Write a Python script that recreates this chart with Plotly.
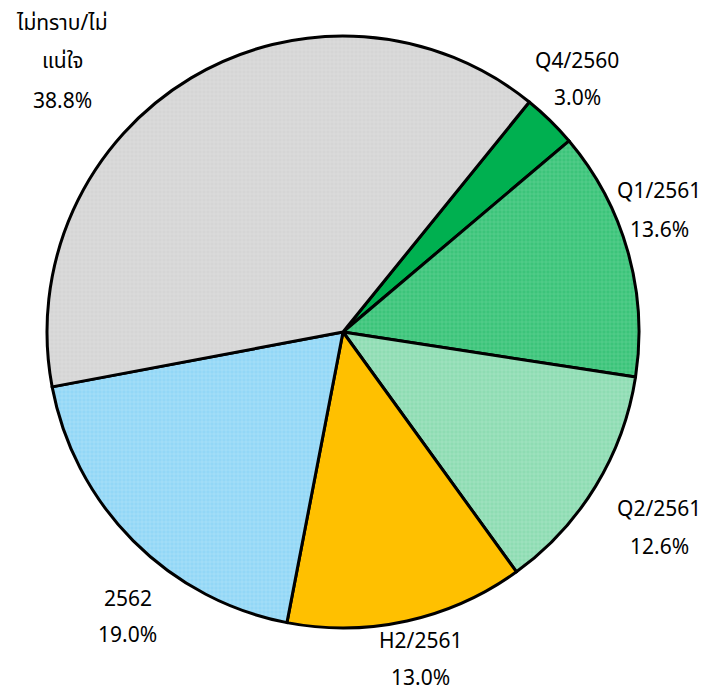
import plotly.graph_objects as go

labels = ["Q4/2560", "Q1/2561", "Q2/2561", "H2/2561", "2562", "ไม่ทราบ/ไม่แน่ใจ"]
values = [3.0, 13.6, 12.6, 13.0, 19.0, 38.8]
colors = ["#00b050", "#3cc47a", "#8edcb3", "#ffc000", "#93d7f6", "#d5d5d5"]
pattern_fg = ["#00b050", "#8ee0b0", "#c8f0da", "#ffc000", "#cdeefc", "#e8e8e8"]
pattern_shape = ["", "+", "+", "", "+", "+"]

# label lines, as shown beside each slice
label_lines = [
    ["Q4/2560", "3.0%"],
    ["Q1/2561", "13.6%"],
    ["Q2/2561", "12.6%"],
    ["H2/2561", "13.0%"],
    ["2562", "19.0%"],
    ["ไม่ทราบ/ไม่", "แน่ใจ", "38.8%"],
]
# screen positions (px) of label lines
label_pos = [
    (577, [60, 97]),
    (659, [190, 229]),
    (659, [508, 546]),
    (420, [640, 677]),
    (128, [598, 634]),
    (62, [22, 60, 100]),
]

OFF = 8  # page body margin
W, H = 706 - OFF, 691 - OFF
cx, cy, r = 343 - OFF, 332 - OFF, 296


def px(x):
    return (x - OFF) / W


def py(y):
    return 1 - (y - OFF) / H


fig = go.Figure(go.Pie(
    labels=labels,
    values=values,
    sort=False,
    direction="clockwise",
    rotation=39,
    textinfo="none",
    hoverinfo="label+percent",
    marker=dict(
        colors=colors,
        line=dict(color="black", width=3),
        pattern=dict(shape=pattern_shape, fgcolor=pattern_fg, size=4, solidity=0.25, fillmode="overlay"),
    ),
    domain=dict(x=[(cx - r) / W, (cx + r) / W], y=[1 - (cy + r) / H, 1 - (cy - r) / H]),
    showlegend=False,
))

for (x, ys), lines in zip(label_pos, label_lines):
    for y, t in zip(ys, lines):
        fig.add_annotation(x=px(x), y=py(y), xref="paper", yref="paper",
                           text=t, showarrow=False, xanchor="center", yanchor="middle",
                           font=dict(size=21, color="black"))

fig.update_layout(
    width=W, height=H,
    margin=dict(l=0, r=0, t=0, b=0),
    paper_bgcolor="white",
    font=dict(family="Tahoma, 'Noto Sans', 'Noto Sans Thai', sans-serif"),
)

fig.write_html("out.html")
